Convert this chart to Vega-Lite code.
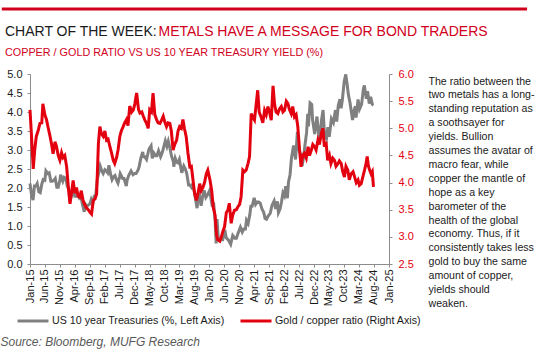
{
 "$schema": "https://vega.github.io/schema/vega-lite/v6.json",
 "width": 359,
 "height": 190,
 "autosize": {"type": "none"},
 "padding": {"left": 30, "top": 74, "right": 160, "bottom": 90},
 "background": "white",
 "config": {"view": {"stroke": null}, "font": "Liberation Sans", "axis": {"grid": false, "labelFont": "Liberation Sans", "titleFont": "Liberation Sans"}, "legend": {"labelFont": "Liberation Sans"}},
 "title": {"text": "CHART OF THE WEEK:", "subtitle": "COPPER / GOLD RATIO VS US 10 YEAR TREASURY YIELD (%)", "anchor": "start", "frame": "group", "dx": -25, "offset": -50, "fontSize": 14, "fontWeight": "normal", "color": "#1a1a1a", "font": "Liberation Sans", "subtitleFont": "Liberation Sans", "subtitleFontSize": 10.8, "subtitleColor": "#d1001c", "subtitlePadding": 8},
 "datasets": {
  "ust": [
{"d":"2015-01-01","v":2.12},{"d":"2015-01-15","v":1.85},{"d":"2015-02-01","v":1.68},{"d":"2015-02-15","v":2.05},{"d":"2015-03-01","v":2.05},{"d":"2015-03-15","v":2.12},{"d":"2015-04-01","v":1.9},{"d":"2015-04-15","v":1.88},{"d":"2015-05-01","v":2.1},{"d":"2015-05-15","v":2.22},{"d":"2015-06-01","v":2.2},{"d":"2015-06-12","v":2.45},{"d":"2015-07-01","v":2.38},{"d":"2015-07-15","v":2.4},{"d":"2015-08-01","v":2.18},{"d":"2015-08-15","v":2.18},{"d":"2015-09-01","v":2.2},{"d":"2015-09-15","v":2.25},{"d":"2015-10-01","v":2.02},{"d":"2015-10-15","v":2.02},{"d":"2015-11-01","v":2.2},{"d":"2015-11-09","v":2.35},{"d":"2015-12-01","v":2.18},{"d":"2015-12-15","v":2.28},
{"d":"2016-01-01","v":2.25},{"d":"2016-01-15","v":2.05},{"d":"2016-02-01","v":1.95},{"d":"2016-02-11","v":1.65},{"d":"2016-03-01","v":1.82},{"d":"2016-03-15","v":1.95},{"d":"2016-04-01","v":1.78},{"d":"2016-04-15","v":1.78},{"d":"2016-05-01","v":1.83},{"d":"2016-05-15","v":1.75},{"d":"2016-06-01","v":1.82},{"d":"2016-06-15","v":1.6},{"d":"2016-07-06","v":1.37},{"d":"2016-07-15","v":1.58},{"d":"2016-08-01","v":1.52},{"d":"2016-08-15","v":1.55},{"d":"2016-09-01","v":1.58},{"d":"2016-09-15","v":1.7},{"d":"2016-10-01","v":1.6},{"d":"2016-10-15","v":1.78},{"d":"2016-11-01","v":1.83},{"d":"2016-11-15","v":2.22},{"d":"2016-12-01","v":2.4},{"d":"2016-12-15","v":2.58},
{"d":"2017-01-01","v":2.45},{"d":"2017-01-15","v":2.38},{"d":"2017-02-01","v":2.48},{"d":"2017-02-15","v":2.45},{"d":"2017-03-01","v":2.4},{"d":"2017-03-14","v":2.6},{"d":"2017-04-01","v":2.35},{"d":"2017-04-15","v":2.22},{"d":"2017-05-01","v":2.3},{"d":"2017-05-15","v":2.33},{"d":"2017-06-01","v":2.2},{"d":"2017-06-14","v":2.13},{"d":"2017-07-01","v":2.3},{"d":"2017-07-07","v":2.38},{"d":"2017-08-01","v":2.25},{"d":"2017-08-15","v":2.25},{"d":"2017-09-07","v":2.05},{"d":"2017-09-15","v":2.2},{"d":"2017-10-01","v":2.33},{"d":"2017-10-25","v":2.45},{"d":"2017-11-15","v":2.35},{"d":"2017-12-01","v":2.38},{"d":"2017-12-15","v":2.38},
{"d":"2018-01-01","v":2.45},{"d":"2018-01-15","v":2.55},{"d":"2018-02-01","v":2.78},{"d":"2018-02-21","v":2.95},{"d":"2018-03-01","v":2.82},{"d":"2018-03-15","v":2.82},{"d":"2018-04-01","v":2.75},{"d":"2018-04-25","v":3.02},{"d":"2018-05-17","v":3.11},{"d":"2018-05-29","v":2.78},{"d":"2018-06-15","v":2.92},{"d":"2018-07-01","v":2.85},{"d":"2018-07-15","v":2.85},{"d":"2018-08-01","v":2.98},{"d":"2018-08-22","v":2.82},{"d":"2018-09-01","v":2.88},{"d":"2018-09-15","v":3.0},{"d":"2018-10-09","v":3.24},{"d":"2018-10-25","v":3.1},{"d":"2018-11-08","v":3.23},{"d":"2018-11-25","v":3.05},{"d":"2018-12-10","v":2.85},{"d":"2018-12-31","v":2.68},
{"d":"2019-01-03","v":2.56},{"d":"2019-01-18","v":2.78},{"d":"2019-02-01","v":2.68},{"d":"2019-02-15","v":2.66},{"d":"2019-03-01","v":2.75},{"d":"2019-03-25","v":2.4},{"d":"2019-04-15","v":2.58},{"d":"2019-05-01","v":2.5},{"d":"2019-05-15","v":2.38},{"d":"2019-06-03","v":2.08},{"d":"2019-06-15","v":2.08},{"d":"2019-07-01","v":2.02},{"d":"2019-07-15","v":2.1},{"d":"2019-08-01","v":1.88},{"d":"2019-08-28","v":1.47},{"d":"2019-09-13","v":1.9},{"d":"2019-09-30","v":1.67},{"d":"2019-10-08","v":1.53},{"d":"2019-10-25","v":1.8},{"d":"2019-11-08","v":1.94},{"d":"2019-11-25","v":1.75},{"d":"2019-12-13","v":1.82},{"d":"2019-12-31","v":1.92},
{"d":"2020-01-08","v":1.85},{"d":"2020-01-31","v":1.51},{"d":"2020-02-12","v":1.62},{"d":"2020-02-28","v":1.15},{"d":"2020-03-09","v":0.54},{"d":"2020-03-18","v":1.18},{"d":"2020-03-31","v":0.67},{"d":"2020-04-15","v":0.63},{"d":"2020-04-30","v":0.64},{"d":"2020-05-15","v":0.64},{"d":"2020-06-05","v":0.9},{"d":"2020-06-20","v":0.69},{"d":"2020-07-15","v":0.62},{"d":"2020-08-04","v":0.52},{"d":"2020-08-25","v":0.75},{"d":"2020-09-15","v":0.68},{"d":"2020-10-01","v":0.68},{"d":"2020-10-23","v":0.84},{"d":"2020-11-11","v":0.97},{"d":"2020-11-30","v":0.84},{"d":"2020-12-15","v":0.92},
{"d":"2021-01-01","v":0.92},{"d":"2021-01-12","v":1.15},{"d":"2021-01-29","v":1.07},{"d":"2021-02-15","v":1.3},{"d":"2021-02-25","v":1.52},{"d":"2021-03-10","v":1.52},{"d":"2021-03-31","v":1.74},{"d":"2021-04-15","v":1.57},{"d":"2021-05-01","v":1.63},{"d":"2021-05-15","v":1.63},{"d":"2021-06-01","v":1.6},{"d":"2021-06-18","v":1.45},{"d":"2021-07-06","v":1.36},{"d":"2021-07-20","v":1.2},{"d":"2021-08-04","v":1.18},{"d":"2021-08-20","v":1.26},{"d":"2021-09-10","v":1.33},{"d":"2021-09-28","v":1.54},{"d":"2021-10-20","v":1.66},{"d":"2021-11-05","v":1.45},{"d":"2021-11-22","v":1.65},{"d":"2021-12-03","v":1.35},{"d":"2021-12-20","v":1.45},
{"d":"2022-01-03","v":1.63},{"d":"2022-01-18","v":1.87},{"d":"2022-02-01","v":1.8},{"d":"2022-02-15","v":2.05},{"d":"2022-03-04","v":1.73},{"d":"2022-03-15","v":2.15},{"d":"2022-03-31","v":2.35},{"d":"2022-04-15","v":2.8},{"d":"2022-05-06","v":3.12},{"d":"2022-05-26","v":2.75},{"d":"2022-06-14","v":3.48},{"d":"2022-06-30","v":3.01},{"d":"2022-07-15","v":2.9},{"d":"2022-08-01","v":2.58},{"d":"2022-08-15","v":2.8},{"d":"2022-08-31","v":3.15},{"d":"2022-09-15","v":3.45},{"d":"2022-09-27","v":3.95},{"d":"2022-10-04","v":3.62},{"d":"2022-10-21","v":4.24},{"d":"2022-11-07","v":4.2},{"d":"2022-11-15","v":3.8},{"d":"2022-12-07","v":3.42},{"d":"2022-12-30","v":3.88},
{"d":"2023-01-18","v":3.37},{"d":"2023-02-01","v":3.4},{"d":"2023-02-15","v":3.8},{"d":"2023-03-02","v":4.05},{"d":"2023-03-17","v":3.4},{"d":"2023-04-06","v":3.3},{"d":"2023-04-20","v":3.6},{"d":"2023-05-04","v":3.35},{"d":"2023-05-26","v":3.82},{"d":"2023-06-15","v":3.72},{"d":"2023-07-06","v":4.05},{"d":"2023-07-19","v":3.75},{"d":"2023-08-04","v":4.18},{"d":"2023-08-21","v":4.34},{"d":"2023-09-01","v":4.1},{"d":"2023-09-15","v":4.33},{"d":"2023-10-03","v":4.8},{"d":"2023-10-19","v":4.99},{"d":"2023-11-01","v":4.75},{"d":"2023-11-15","v":4.45},{"d":"2023-12-01","v":4.25},{"d":"2023-12-27","v":3.79},
{"d":"2024-01-10","v":4.03},{"d":"2024-01-25","v":4.15},{"d":"2024-02-01","v":3.85},{"d":"2024-02-21","v":4.33},{"d":"2024-03-08","v":4.08},{"d":"2024-03-28","v":4.2},{"d":"2024-04-15","v":4.6},{"d":"2024-04-25","v":4.7},{"d":"2024-05-15","v":4.35},{"d":"2024-05-28","v":4.55},{"d":"2024-06-14","v":4.22},{"d":"2024-06-28","v":4.4},{"d":"2024-07-15","v":4.2},{"d":"2024-07-27","v":4.18}
  ],
  "ratio": [
{"d":"2015-01-01","v":5.34},{"d":"2015-01-15","v":4.9},{"d":"2015-02-03","v":4.25},{"d":"2015-02-18","v":4.6},{"d":"2015-03-06","v":4.85},{"d":"2015-03-24","v":4.95},{"d":"2015-04-12","v":5.09},{"d":"2015-05-01","v":5.1},{"d":"2015-05-12","v":5.45},{"d":"2015-06-01","v":5.25},{"d":"2015-06-18","v":5.16},{"d":"2015-07-06","v":5.0},{"d":"2015-07-21","v":4.88},{"d":"2015-08-09","v":4.7},{"d":"2015-08-24","v":4.53},{"d":"2015-09-12","v":4.75},{"d":"2015-09-27","v":4.67},{"d":"2015-10-15","v":4.5},{"d":"2015-11-01","v":4.41},{"d":"2015-11-18","v":4.55},{"d":"2015-12-03","v":4.46},{"d":"2015-12-21","v":4.5},
{"d":"2016-01-09","v":4.29},{"d":"2016-01-27","v":3.9},{"d":"2016-02-12","v":3.61},{"d":"2016-03-01","v":3.85},{"d":"2016-03-15","v":4.04},{"d":"2016-04-01","v":3.8},{"d":"2016-04-18","v":3.91},{"d":"2016-05-04","v":3.75},{"d":"2016-05-21","v":3.73},{"d":"2016-06-06","v":3.85},{"d":"2016-06-24","v":3.67},{"d":"2016-07-09","v":3.6},{"d":"2016-07-27","v":3.54},{"d":"2016-08-15","v":3.5},{"d":"2016-09-03","v":3.45},{"d":"2016-09-18","v":3.42},{"d":"2016-10-06","v":3.67},{"d":"2016-10-24","v":3.7},{"d":"2016-11-09","v":3.79},{"d":"2016-11-27","v":4.72},{"d":"2016-12-12","v":5.03},{"d":"2016-12-27","v":4.9},
{"d":"2017-01-15","v":4.85},{"d":"2017-02-01","v":4.95},{"d":"2017-02-18","v":4.78},{"d":"2017-03-06","v":4.8},{"d":"2017-03-24","v":4.66},{"d":"2017-04-09","v":4.55},{"d":"2017-04-27","v":4.41},{"d":"2017-05-12","v":4.35},{"d":"2017-06-01","v":4.47},{"d":"2017-06-15","v":4.6},{"d":"2017-07-03","v":4.85},{"d":"2017-07-18","v":4.95},{"d":"2017-08-06","v":5.03},{"d":"2017-08-21","v":5.1},{"d":"2017-09-09","v":5.16},{"d":"2017-09-24","v":5.05},{"d":"2017-10-12","v":5.41},{"d":"2017-11-01","v":5.3},{"d":"2017-11-18","v":5.34},{"d":"2017-12-03","v":5.45},{"d":"2017-12-21","v":5.65},
{"d":"2018-01-09","v":5.35},{"d":"2018-01-24","v":5.28},{"d":"2018-02-12","v":5.3},{"d":"2018-02-27","v":5.22},{"d":"2018-03-15","v":5.15},{"d":"2018-04-01","v":5.09},{"d":"2018-04-18","v":5.0},{"d":"2018-05-03","v":5.34},{"d":"2018-05-21","v":5.3},{"d":"2018-06-06","v":5.65},{"d":"2018-06-24","v":5.25},{"d":"2018-07-12","v":5.16},{"d":"2018-07-27","v":5.1},{"d":"2018-08-15","v":5.09},{"d":"2018-09-01","v":5.15},{"d":"2018-09-18","v":5.22},{"d":"2018-10-03","v":5.12},{"d":"2018-10-21","v":5.03},{"d":"2018-11-06","v":5.1},{"d":"2018-11-24","v":5.09},{"d":"2018-12-09","v":4.95},{"d":"2018-12-27","v":4.6},
{"d":"2019-01-12","v":4.7},{"d":"2019-02-01","v":4.78},{"d":"2019-02-15","v":4.95},{"d":"2019-03-03","v":5.03},{"d":"2019-03-21","v":5.0},{"d":"2019-04-06","v":5.16},{"d":"2019-04-21","v":5.0},{"d":"2019-05-09","v":4.85},{"d":"2019-05-27","v":4.55},{"d":"2019-06-15","v":4.29},{"d":"2019-07-01","v":4.3},{"d":"2019-07-18","v":4.04},{"d":"2019-08-03","v":3.8},{"d":"2019-08-21","v":3.67},{"d":"2019-09-06","v":3.8},{"d":"2019-09-24","v":3.98},{"d":"2019-10-09","v":3.85},{"d":"2019-10-27","v":3.91},{"d":"2019-11-12","v":4.0},{"d":"2019-12-01","v":4.17},{"d":"2019-12-15","v":4.23},
{"d":"2020-01-06","v":4.05},{"d":"2020-01-24","v":3.85},{"d":"2020-02-09","v":3.54},{"d":"2020-02-27","v":3.4},{"d":"2020-03-12","v":3.05},{"d":"2020-03-24","v":2.95},{"d":"2020-04-15","v":2.92},{"d":"2020-05-01","v":3.0},{"d":"2020-05-18","v":3.11},{"d":"2020-06-03","v":3.19},{"d":"2020-06-21","v":3.45},{"d":"2020-07-06","v":3.49},{"d":"2020-07-21","v":3.62},{"d":"2020-08-09","v":3.25},{"d":"2020-08-24","v":3.4},{"d":"2020-09-12","v":3.49},{"d":"2020-10-01","v":3.5},{"d":"2020-10-15","v":3.55},{"d":"2020-11-03","v":3.6},{"d":"2020-11-18","v":3.74},{"d":"2020-12-06","v":4.23},{"d":"2020-12-24","v":4.2},
{"d":"2021-01-09","v":4.23},{"d":"2021-01-27","v":4.35},{"d":"2021-02-12","v":4.48},{"d":"2021-03-01","v":5.27},{"d":"2021-03-18","v":5.2},{"d":"2021-04-03","v":5.15},{"d":"2021-04-18","v":5.4},{"d":"2021-05-06","v":5.7},{"d":"2021-05-21","v":5.3},{"d":"2021-06-09","v":5.21},{"d":"2021-06-27","v":5.1},{"d":"2021-07-15","v":5.33},{"d":"2021-08-01","v":5.25},{"d":"2021-08-18","v":5.4},{"d":"2021-09-03","v":5.3},{"d":"2021-09-21","v":5.15},{"d":"2021-10-09","v":5.78},{"d":"2021-10-24","v":5.45},{"d":"2021-11-09","v":5.3},{"d":"2021-11-27","v":5.27},{"d":"2021-12-12","v":5.35},
{"d":"2022-01-01","v":5.4},{"d":"2022-01-18","v":5.3},{"d":"2022-02-03","v":5.33},{"d":"2022-02-21","v":5.5},{"d":"2022-03-09","v":5.46},{"d":"2022-03-24","v":5.35},{"d":"2022-04-12","v":5.27},{"d":"2022-04-27","v":5.4},{"d":"2022-05-15","v":5.21},{"d":"2022-06-01","v":5.25},{"d":"2022-06-18","v":5.03},{"d":"2022-07-06","v":4.6},{"d":"2022-07-21","v":4.29},{"d":"2022-08-06","v":4.5},{"d":"2022-08-24","v":4.54},{"d":"2022-09-12","v":4.45},{"d":"2022-10-01","v":4.66},{"d":"2022-10-15","v":4.5},{"d":"2022-11-03","v":4.6},{"d":"2022-11-18","v":4.7},{"d":"2022-12-06","v":4.66},{"d":"2022-12-21","v":4.6},
{"d":"2023-01-09","v":4.78},{"d":"2023-01-24","v":4.7},{"d":"2023-02-12","v":4.9},{"d":"2023-03-01","v":5.0},{"d":"2023-03-15","v":4.66},{"d":"2023-04-01","v":4.75},{"d":"2023-04-18","v":4.41},{"d":"2023-05-06","v":4.5},{"d":"2023-05-21","v":4.35},{"d":"2023-06-09","v":4.45},{"d":"2023-06-27","v":4.41},{"d":"2023-07-12","v":4.3},{"d":"2023-08-01","v":4.35},{"d":"2023-08-15","v":4.4},{"d":"2023-09-03","v":4.35},{"d":"2023-09-18","v":4.2},{"d":"2023-10-06","v":4.1},{"d":"2023-10-21","v":4.3},{"d":"2023-11-09","v":4.23},{"d":"2023-11-24","v":4.05},{"d":"2023-12-12","v":4.16},
{"d":"2024-01-01","v":4.2},{"d":"2024-01-18","v":4.1},{"d":"2024-02-03","v":4.0},{"d":"2024-02-21","v":4.05},{"d":"2024-03-06","v":3.95},{"d":"2024-03-24","v":3.98},{"d":"2024-04-09","v":4.1},{"d":"2024-04-27","v":4.23},{"d":"2024-05-12","v":4.35},{"d":"2024-05-24","v":4.48},{"d":"2024-06-06","v":4.3},{"d":"2024-06-18","v":4.23},{"d":"2024-07-03","v":4.16},{"d":"2024-07-15","v":4.2},{"d":"2024-07-27","v":3.92}
  ]
 },
 "layer": [
  {
   "data": {"name": "ust"},
   "mark": {"type": "line", "strokeWidth": 3},
   "encoding": {
    "x": {"field": "d", "type": "temporal",
     "scale": {"domain": [{"year": 2015, "month": 1, "date": 1}, {"year": 2025, "month": 1, "date": 1}]},
     "axis": {
      "values": [{"year":2015,"month":1,"date":1},{"year":2015,"month":6,"date":1},{"year":2015,"month":11,"date":1},{"year":2016,"month":4,"date":1},{"year":2016,"month":9,"date":1},{"year":2017,"month":2,"date":1},{"year":2017,"month":7,"date":1},{"year":2017,"month":12,"date":1},{"year":2018,"month":5,"date":1},{"year":2018,"month":10,"date":1},{"year":2019,"month":3,"date":1},{"year":2019,"month":8,"date":1},{"year":2020,"month":1,"date":1},{"year":2020,"month":6,"date":1},{"year":2020,"month":11,"date":1},{"year":2021,"month":4,"date":1},{"year":2021,"month":9,"date":1},{"year":2022,"month":2,"date":1},{"year":2022,"month":7,"date":1},{"year":2022,"month":12,"date":1},{"year":2023,"month":5,"date":1},{"year":2023,"month":10,"date":1},{"year":2024,"month":3,"date":1},{"year":2024,"month":8,"date":1},{"year":2025,"month":1,"date":1}],
      "format": "%b-%y", "labelAngle": -90, "labelFontSize": 11, "labelColor": "#1a1a1a",
      "labelOverlap": false, "labelFlush": false,
      "tickSize": 3, "labelPadding": 2, "domainColor": "#8c8c8c", "tickColor": "#8c8c8c",
      "title": "Source: Bloomberg, MUFG Research", "titleX": -30, "titleY": 81,
      "titleAlign": "left", "titleBaseline": "alphabetic", "titleFontStyle": "italic",
      "titleFontWeight": "normal", "titleFontSize": 12, "titleColor": "#595959"
     }
    },
    "y": {"field": "v", "type": "quantitative",
     "scale": {"domain": [0, 5]},
     "axis": {
      "values": [0, 0.5, 1, 1.5, 2, 2.5, 3, 3.5, 4, 4.5, 5], "format": ".1f",
      "labelOverlap": false,
      "labelFontSize": 11, "labelColor": "#1a1a1a", "tickSize": 3, "labelPadding": 5,
      "domainColor": "#8c8c8c", "tickColor": "#8c8c8c",
      "title": "METALS HAVE A MESSAGE FOR BOND TRADERS", "titleAngle": 0,
      "titleAlign": "left", "titleBaseline": "alphabetic", "titleX": 128, "titleY": -39,
      "titleFontSize": 14, "titleFontWeight": "normal", "titleColor": "#d1001c"
     }
    },
    "color": {"datum": "US 10 year Treasuries (%, Left Axis)",
     "scale": {"domain": ["US 10 year Treasuries (%, Left Axis)", "Gold / copper ratio (Right Axis)"], "range": ["#808080", "#e3000f"]},
     "legend": {"orient": "none", "legendX": -14, "legendY": 230, "direction": "horizontal", "title": null,
      "symbolType": "stroke", "symbolStrokeWidth": 3, "symbolSize": 961, "labelFontSize": 10.7, "labelLimit": 400,
      "labelColor": "#1a1a1a", "columnPadding": 8, "labelOffset": 2, "padding": 0, "symbolOffset": 0}
    }
   }
  },
  {
   "data": {"name": "ratio"},
   "mark": {"type": "line", "strokeWidth": 3},
   "encoding": {
    "x": {"field": "d", "type": "temporal", "axis": null},
    "y": {"field": "v", "type": "quantitative",
     "scale": {"domain": [2.5, 6]},
     "axis": {
      "orient": "right",
      "values": [2.5, 3, 3.5, 4, 4.5, 5, 5.5, 6], "format": ".1f", "labelOverlap": false,
      "labelFontSize": 11, "labelColor": "#e3000f", "tickSize": 3, "labelPadding": 6,
      "domainColor": "#8c8c8c", "tickColor": "#8c8c8c",
      "title": ["The ratio between the", "two metals has a long-", "standing reputation as", "a soothsayer for", "yields. Bullion", "assumes the avatar of", "macro fear, while", "copper the mantle of", "hope as a key", "barometer of the", "health of the global", "economy. Thus, if it", "consistently takes less", "gold to buy the same", "amount of copper,", "yields should", "weaken."],
      "titleAngle": 0, "titleAlign": "left", "titleBaseline": "top", "titleX": 39, "titleY": 2,
      "titleFontSize": 10.6, "titleFontWeight": "normal", "titleColor": "#1a1a1a", "titleLineHeight": 13.9
     }
    },
    "color": {"datum": "Gold / copper ratio (Right Axis)"}
   }
  },
  {
   "data": {"values": [{"a": 1}]},
   "mark": {"type": "rule", "color": "#d1001c", "strokeWidth": 3, "clip": false},
   "encoding": {
    "x": {"datum": {"year": 2014, "month": 3, "date": 20}, "type": "temporal", "axis": null},
    "x2": {"datum": {"year": 2028, "month": 11, "date": 6}},
    "y": {"datum": 6.71, "type": "quantitative", "scale": {"domain": [0, 5]}, "axis": null}
   }
  }
 ],
 "resolve": {"scale": {"y": "independent"}, "axis": {"x": "independent"}}
}
